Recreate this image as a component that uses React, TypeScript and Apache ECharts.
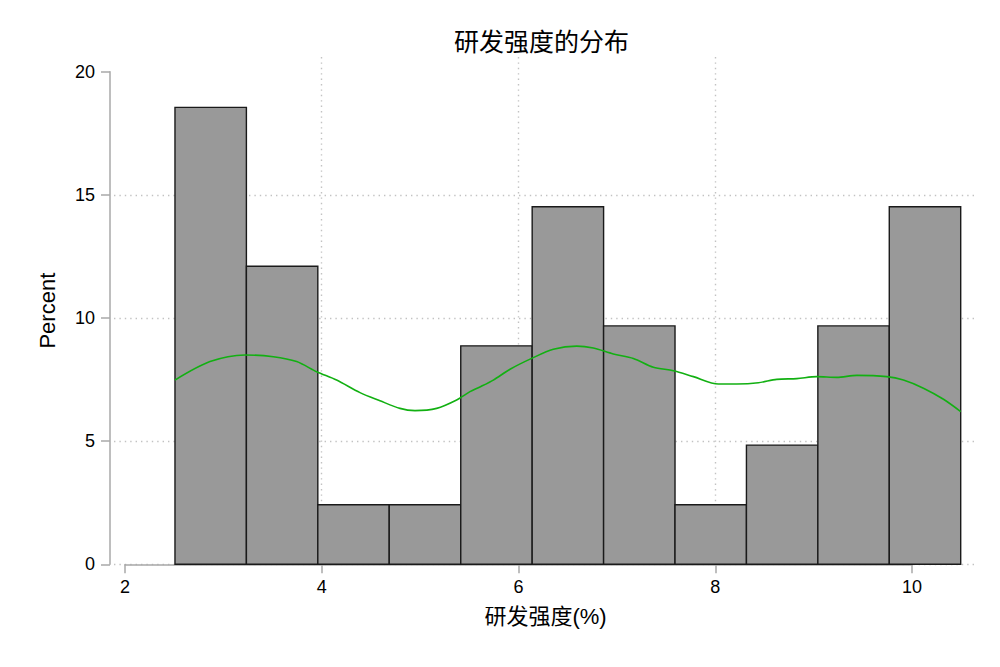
import React, { useEffect, useRef } from "react";
import * as echarts from "echarts";

const BIN_EDGES = [2.508, 3.234, 3.96, 4.686, 5.413, 6.139, 6.865, 7.591, 8.317, 9.043, 9.769, 10.495];
const BIN_PERCENT = [18.55, 12.1, 2.42, 2.42, 8.87, 14.52, 9.68, 2.42, 4.84, 9.68, 14.52];

const KDE_X = [2.508, 2.864, 3.22, 3.508, 3.745, 3.948, 4.151, 4.389, 4.592, 4.795, 4.948, 5.168, 5.371, 5.507, 5.608, 5.744, 5.914, 6.134, 6.354, 6.592, 6.761, 6.964, 7.168, 7.371, 7.575, 7.778, 8.032, 8.219, 8.439, 8.625, 8.829, 9.032, 9.235, 9.439, 9.744, 9.913, 10.116, 10.32, 10.495];
const KDE_Y = [7.48, 8.23, 8.5, 8.43, 8.23, 7.82, 7.48, 6.97, 6.64, 6.33, 6.24, 6.33, 6.67, 7.01, 7.2, 7.48, 7.92, 8.36, 8.73, 8.86, 8.78, 8.54, 8.36, 8.0, 7.86, 7.62, 7.32, 7.32, 7.37, 7.51, 7.54, 7.62, 7.59, 7.67, 7.62, 7.48, 7.15, 6.7, 6.2];

const X_TICKS = [2, 4, 6, 8, 10];
const Y_TICKS = [0, 5, 10, 15, 20];

const TITLE = "研发强度的分布";
const X_NAME = "研发强度(%)";
const Y_NAME = "Percent";

const FONT = "'Liberation Sans', Arial, 'Noto Sans CJK SC', sans-serif";
const AXIS_GREY = "#a8a8a8";
const GRID_GREY = "#c2c2c2";

export default function App() {
  const ref = useRef<HTMLDivElement>(null);

  useEffect(() => {
    if (!ref.current) return;
    const chart = echarts.init(ref.current, null, { renderer: "svg" });

    const bars = BIN_PERCENT.map((v, i) => [BIN_EDGES[i], BIN_EDGES[i + 1], v]);
    const kde = KDE_X.map((x, i) => [x, KDE_Y[i]]);

    const option: any = {
      animation: false,
      backgroundColor: "#ffffff",
      title: {
        text: TITLE,
        left: 536.5,
        top: 24.5,
        textAlign: "center",
        textStyle: { fontSize: 25, fontWeight: "normal", color: "#000", fontFamily: FONT },
      },
      grid: [
        { left: 114, right: 23, top: 57, bottom: 102.7 },
        { left: 110, right: 23, top: 71.7, bottom: 102.7 },
        { left: 125, right: 88, top: 57, bottom: 102.7 },
      ],
      xAxis: [
        {
          gridIndex: 0,
          type: "value",
          min: 1.8882,
          max: 10.6607,
          name: X_NAME,
          nameLocation: "middle",
          nameGap: 41,
          nameTextStyle: { fontSize: 22, color: "#000", fontFamily: FONT },
          axisLine: { show: false },
          axisTick: { show: false, customValues: X_TICKS },
          axisLabel: { show: false, customValues: X_TICKS },
          splitLine: {
            show: true,
            showMinLine: false,
            showMaxLine: false,
            lineStyle: { color: GRID_GREY, width: 1.4, type: [1.4, 4] },
          },
        },
        { gridIndex: 1, type: "value", show: false, min: 0, max: 1 },
        {
          gridIndex: 2,
          type: "value",
          min: 2,
          max: 10,
          interval: 2,
          axisLine: { show: true, lineStyle: { color: AXIS_GREY, width: 1.5 } },
          axisTick: { show: true, length: 9, lineStyle: { color: AXIS_GREY, width: 1.5 } },
          axisLabel: { show: true, fontSize: 18, color: "#000", margin: 14, fontFamily: FONT },
          splitLine: { show: false },
        },
      ],
      yAxis: [
        {
          gridIndex: 0,
          type: "value",
          min: 0,
          max: 20.597,
          name: Y_NAME,
          nameLocation: "middle",
          nameGap: 56,
          nameTextStyle: { fontSize: 22, color: "#000", fontFamily: FONT },
          axisLine: { show: false },
          axisTick: { show: false, customValues: Y_TICKS },
          axisLabel: { show: false, customValues: Y_TICKS },
          splitLine: {
            show: true,
            showMinLine: true,
            showMaxLine: false,
            lineStyle: { color: GRID_GREY, width: 1.4, type: [1.4, 4] },
          },
        },
        {
          gridIndex: 1,
          type: "value",
          min: 0,
          max: 20,
          interval: 5,
          axisLine: { show: true, lineStyle: { color: AXIS_GREY, width: 1.5 } },
          axisTick: { show: true, length: 9, lineStyle: { color: AXIS_GREY, width: 1.5 } },
          axisLabel: { show: true, fontSize: 18, color: "#000", margin: 15, fontFamily: FONT },
          splitLine: { show: false },
        },
        { gridIndex: 2, type: "value", show: false, min: 0, max: 1 },
      ],
      series: [
        {
          type: "custom",
          xAxisIndex: 0,
          yAxisIndex: 0,
          data: bars,
          z: 3,
          renderItem: (params: any, api: any) => {
            const p0 = api.coord([api.value(0), api.value(2)]);
            const p1 = api.coord([api.value(1), 0]);
            return {
              type: "rect",
              shape: { x: p0[0], y: p0[1], width: p1[0] - p0[0], height: p1[1] - p0[1] },
              style: { fill: "#999999", stroke: "#1a1a1a", lineWidth: 1.4 },
            };
          },
        },
        {
          type: "line",
          xAxisIndex: 0,
          yAxisIndex: 0,
          data: kde,
          z: 5,
          smooth: 0.3,
          showSymbol: false,
          symbol: "none",
          lineStyle: { color: "#12b012", width: 1.6 },
        },
      ],
    };

    chart.setOption(option);
    return () => chart.dispose();
  }, []);

  return (
    <div
      ref={ref}
      style={{ position: "absolute", left: 0, top: 0, width: 1000, height: 667, background: "#fff" }}
    />
  );
}
